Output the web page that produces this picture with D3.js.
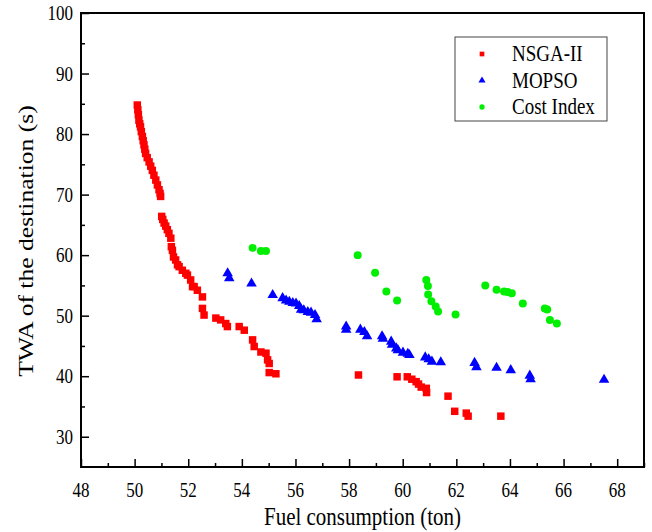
<!DOCTYPE html>
<html>
<head>
<meta charset="utf-8">
<script src="https://cdn.jsdelivr.net/npm/d3@7"></script>
<style>
  body { margin: 0; background: #fff; }
  svg text { font-family: "Liberation Serif", "Times New Roman", serif; fill: #000; }
</style>
</head>
<body>
<div id="chart"></div>
<script>
// NSGA-II : [fuel, twa]
var nsga = [
  [50.10, 84.8], [50.12, 84.0], [50.14, 83.2], [50.16, 82.3], [50.19, 81.7], [50.22, 81.2],
  [50.25, 80.4], [50.29, 79.6], [50.32, 78.9], [50.35, 78.2], [50.38, 77.5], [50.41, 76.8],
  [50.47, 76.1], [50.54, 75.4], [50.60, 74.7], [50.66, 74.0], [50.72, 73.2], [50.79, 72.4],
  [50.85, 71.6], [50.91, 70.8], [50.95, 70.2], [50.97, 69.7],
  [51.01, 66.4], [51.05, 65.9], [51.10, 65.3], [51.16, 64.8], [51.22, 64.2], [51.28, 63.6],
  [51.35, 62.8], [51.37, 61.4], [51.41, 60.8], [51.45, 59.7], [51.53, 59.2], [51.60, 58.4],
  [51.66, 58.1], [51.78, 57.5], [51.91, 57.0], [51.97, 56.7], [52.09, 55.9], [52.16, 54.8],
  [52.22, 54.8], [52.34, 54.2], [52.53, 53.1], [52.53, 51.2], [52.59, 50.1],
  [53.03, 49.6], [53.21, 49.3], [53.40, 48.7], [53.46, 48.2], [53.90, 48.2], [54.09, 47.6],
  [54.40, 46.0], [54.46, 44.9], [54.71, 44.0], [54.90, 43.8], [54.96, 42.7], [55.02, 42.1],
  [55.02, 40.6], [55.27, 40.4],
  [58.35, 40.2], [59.79, 39.9], [60.17, 39.9], [60.34, 39.5], [60.50, 39.1], [60.59, 38.7],
  [60.69, 38.2], [60.88, 38.0], [60.89, 37.3], [61.69, 36.7], [61.94, 34.2], [62.37, 33.9],
  [62.44, 33.4], [63.66, 33.4]
];

// MOPSO
var mopso = [
  [53.47, 57.0], [53.53, 56.2], [54.36, 55.3], [55.15, 53.4], [55.52, 52.9], [55.65, 52.5],
  [55.77, 52.3], [55.90, 52.1], [56.02, 52.0], [56.14, 51.6], [56.21, 51.0], [56.31, 50.9],
  [56.46, 50.6], [56.58, 50.5], [56.73, 50.1], [56.79, 49.4],
  [57.89, 48.2], [57.89, 47.7], [58.42, 47.7], [58.57, 47.3], [58.67, 46.6], [59.23, 46.6],
  [59.26, 46.2], [59.57, 45.7], [59.60, 45.2], [59.76, 44.6], [59.82, 44.3], [60.01, 43.9],
  [60.19, 43.7], [60.25, 43.5], [60.84, 43.1], [60.97, 42.8], [61.09, 42.4], [61.42, 42.3],
  [62.68, 42.2], [62.75, 41.5], [63.50, 41.4], [64.03, 41.0], [64.74, 40.1], [64.77, 39.5],
  [67.51, 39.4]
];

// Cost Index
var costIndex = [
  [54.40, 61.2], [54.71, 60.7], [54.90, 60.7], [58.32, 60.0], [58.97, 57.1], [59.39, 54.0],
  [59.79, 52.5], [60.88, 55.9], [60.94, 54.9], [60.95, 53.5], [61.07, 52.4], [61.23, 51.5],
  [61.32, 50.7], [61.97, 50.2], [63.08, 55.0], [63.50, 54.3], [63.78, 54.0], [63.91, 53.9],
  [64.07, 53.7], [64.48, 52.0], [65.30, 51.2], [65.39, 51.0], [65.49, 49.3], [65.75, 48.7]
];

var seriesNames = ["NSGA-II", "MOPSO", "Cost Index"];
var xTicks = d3.range(48, 69, 2);
var yTicks = d3.range(30, 101, 10);

var width = 652, height = 532;
var margin = { top: 13, right: 8, bottom: 65, left: 81 };
var stretch = 1.22; // text in the original looks vertically stretched

var svg = d3.select("#chart").append("svg")
  .attr("width", width)
  .attr("height", height);

var x = d3.scaleLinear().domain([48, 69]).range([margin.left, width - margin.right]);
var y = d3.scaleLinear().domain([25, 100]).range([height - margin.bottom, margin.top]);

// markers
var sym = {
  "NSGA-II": { type: d3.symbolSquare, size: 56, color: "#ff0000", data: nsga },
  "MOPSO": { type: d3.symbolTriangle, size: 48, color: "#0000ff", data: mopso },
  "Cost Index": { type: d3.symbolCircle, size: 50, color: "#00ee00", data: costIndex }
};

seriesNames.forEach(function(name) {
  var s = sym[name];
  svg.append("g").selectAll("path")
    .data(s.data)
    .enter().append("path")
    .attr("d", d3.symbol().type(s.type).size(s.size))
    .attr("transform", d => "translate(" + x(d[0]) + "," + y(d[1]) + ")")
    .attr("fill", s.color);
});

// axes, ticks inward
var xAxis = svg.append("g").attr("transform", "translate(0," + y(25) + ")");
xAxis.call(d3.axisTop(x).tickValues(d3.range(48, 70, 1)).tickSize(4).tickFormat(""));
xAxis.call(g => g.selectAll(".tick").filter(d => d % 2 === 0).select("line").attr("y2", -8));
xAxis.selectAll("line").attr("stroke-width", 1.5);
xAxis.select(".domain").remove();

svg.append("g").selectAll("text")
  .data(xTicks)
  .enter().append("text")
  .attr("transform", d => "translate(" + x(d) + "," + (y(25) + 30) + ") scale(1," + stretch + ")")
  .attr("text-anchor", "middle")
  .style("font-size", "17px")
  .text(d => d);

var yAxis = svg.append("g").attr("transform", "translate(" + x(48) + ",0)");
yAxis.call(d3.axisRight(y).tickValues(d3.range(30, 101, 5)).tickSize(4).tickFormat(""));
yAxis.call(g => g.selectAll(".tick").filter(d => d % 10 === 0).select("line").attr("x2", 8));
yAxis.selectAll("line").attr("stroke-width", 1.5);
yAxis.select(".domain").remove();

svg.append("g").selectAll("text")
  .data(yTicks)
  .enter().append("text")
  .attr("transform", d => "translate(" + (x(48) - 8) + "," + (y(d) + 7) + ") scale(1," + stretch + ")")
  .attr("text-anchor", "end")
  .style("font-size", "17px")
  .text(d => d);

// frame
svg.append("rect")
  .attr("x", x(48)).attr("y", y(100))
  .attr("width", x(69) - x(48)).attr("height", y(25) - y(100))
  .attr("fill", "none").attr("stroke", "#000").attr("stroke-width", 2);

// axis titles
svg.append("text")
  .attr("transform", "translate(" + (x(48) + x(69)) / 2 + ",525) scale(1," + stretch + ")")
  .attr("text-anchor", "middle")
  .style("font-size", "21px")
  .text("Fuel consumption (ton)");

svg.append("text")
  .attr("transform", "translate(33,241) rotate(-90) scale(" + stretch + ",1)")
  .attr("text-anchor", "middle")
  .style("font-size", "21px")
  .text("TWA of the destination (s)");

// legend
var legend = svg.append("g");
legend.append("rect")
  .attr("x", 455).attr("y", 37).attr("width", 152).attr("height", 84)
  .attr("fill", "#fff").attr("stroke", "#444").attr("stroke-width", 1);

seriesNames.forEach(function(name, i) {
  var s = sym[name];
  var ly = 54 + i * 26.5;
  legend.append("path")
    .attr("d", d3.symbol().type(s.type).size(22))
    .attr("transform", "translate(482," + ly + ")")
    .attr("fill", s.color);
  legend.append("text")
    .attr("transform", "translate(512," + (ly + 7) + ") scale(1," + stretch + ")")
    .style("font-size", "19px")
    .text(name);
});
</script>
</body>
</html>
